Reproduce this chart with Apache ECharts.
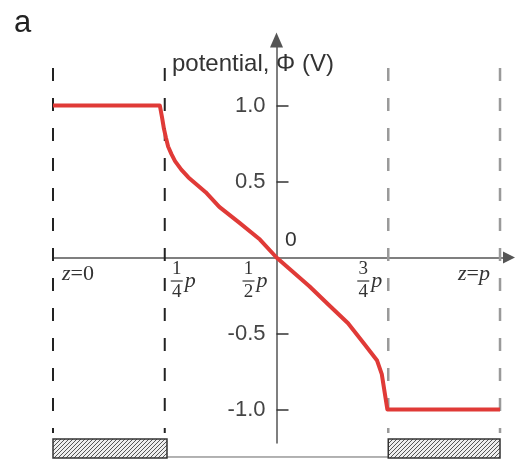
<!DOCTYPE html>
<html><head><meta charset="utf-8">
<script src="https://cdn.jsdelivr.net/npm/echarts@6/dist/echarts.min.js"></script>
<style>html,body{margin:0;padding:0;background:#fff}#c{width:515px;height:460px}</style>
</head><body><div id="c"></div>
<script>
// ---- data (z as fraction of period p, potential in V) ----
const zPos = [0, 0.239, 0.244, 0.248, 0.2525, 0.2575, 0.265, 0.273, 0.287, 0.303, 0.3415, 0.372, 0.418, 0.463, 0.5, 0.530, 0.5735, 0.6165, 0.66, 0.696, 0.725, 0.7355, 0.748, 1.0];
const phi  = [1.0, 1.0, 0.92, 0.85, 0.79, 0.73, 0.68, 0.634, 0.578, 0.527, 0.43, 0.333, 0.226, 0.118, 0.0, -0.078, -0.189, -0.311, -0.433, -0.567, -0.678, -0.767, -1.0, -1.0];
const yTickValues = [-1, -0.5, 0.5, 1];
const xTickZ = [0, 0.25, 0.5, 0.75, 1];
const xTickLabels = ['z=0', '1/4', '1/2', '3/4', 'z=p'];
const dashBlackZ = [0, 0.25];
const dashGrayZ = [0.75, 1];
const dashTop = 1.247, dashBottom = -1.155;
const boxStartZ = [0, 0.75];
const boxEndZ = [0.255, 1.0];
const boxTop = -1.194, boxBottom = -1.319;
const baseLineY = -1.3125;
const originLabel = '0';
const yName = 'potential, \u03A6 (V)';
const panelLabel = 'a';

const SANS = 'Liberation Sans, Arial, sans-serif';
const SERIF = 'Liberation Serif, Times New Roman, serif';

// hatch pattern
const hc = document.createElement('canvas');
hc.width = 4; hc.height = 4;
const hx = hc.getContext('2d');
hx.fillStyle = '#eeeeee'; hx.fillRect(0, 0, 4, 4);
hx.strokeStyle = '#555'; hx.lineWidth = 1;
hx.beginPath();
hx.moveTo(0, 4); hx.lineTo(4, 0);
hx.moveTo(-1, 1); hx.lineTo(1, -1);
hx.moveTo(3, 5); hx.lineTo(5, 3);
hx.stroke();
const hatch = { image: hc, repeat: 'repeat' };

const shift = z => z - 0.5;

const GRID_LEFT = 53, GRID_RIGHT = 6, W = 515;
const X_MIN = -0.5, X_MAX = 0.5201;
const yAxisOffset = -((0 - X_MIN) / (X_MAX - X_MIN)) * (W - GRID_LEFT - GRID_RIGHT);

const dashSeries = [];
dashBlackZ.forEach(z => dashSeries.push({
  type: 'line', data: [[shift(z), dashTop], [shift(z), dashBottom]], showSymbol: false, silent: true, clip: false,
  lineStyle: { color: '#222', width: 2, type: [13, 17] }, z: 2
}));
dashGrayZ.forEach(z => dashSeries.push({
  type: 'line', data: [[shift(z), dashTop], [shift(z), dashBottom]], showSymbol: false, silent: true, clip: false,
  lineStyle: { color: '#9a9a9a', width: 2.5, type: [13, 17] }, z: 2
}));

const chart = echarts.init(document.getElementById('c'), null, { renderer: 'canvas' });
chart.setOption({
  animation: false,
  backgroundColor: '#fff',
  grid: { left: GRID_LEFT, right: GRID_RIGHT, top: 40, bottom: 17, containLabel: false },
  graphic: [
    { type: 'text', left: 14, top: 8, style: { text: panelLabel, font: '31px ' + SANS, fill: '#222' } },
    { type: 'text', x: 172, y: 64.5, style: { text: yName, font: '24px ' + SANS, fill: '#333', verticalAlign: 'middle' }, z: 10 }
  ],
  xAxis: {
    type: 'value', min: X_MIN, max: X_MAX,
    axisLine: { onZero: true, symbol: ['none', 'triangle'], symbolSize: [12, 12], lineStyle: { color: '#555', width: 1.5 } },
    axisTick: { show: false }, axisLabel: { show: false }, splitLine: { show: false }
  },
  yAxis: {
    type: 'value', min: -1.2204, max: 1.431, offset: yAxisOffset,
    axisLine: { onZero: false, symbol: ['none', 'triangle'], symbolSize: [13, 15], lineStyle: { color: '#555', width: 1.5 } },
    axisTick: { show: true, inside: true, length: 12, customValues: yTickValues, lineStyle: { color: '#333', width: 1.5 } },
    axisLabel: { customValues: yTickValues, formatter: v => v.toFixed(1), fontSize: 22, color: '#444', fontFamily: SANS, margin: 11 },
    splitLine: { show: false }
  },
  series: [
    ...dashSeries,
    {
      type: 'line', data: [[shift(0), baseLineY], [shift(1), baseLineY]], showSymbol: false, silent: true, clip: false,
      lineStyle: { color: '#666', width: 1 }, z: 1
    },
    {
      type: 'custom', clip: false, silent: true, z: 3,
      data: boxStartZ.map((s, i) => [shift(s), shift(boxEndZ[i]), boxTop, boxBottom]),
      encode: { x: [0, 1], y: [2, 3] },
      renderItem: (params, api) => {
        const p0 = api.coord([api.value(0), api.value(2)]);
        const p1 = api.coord([api.value(1), api.value(3)]);
        return { type: 'rect', shape: { x: p0[0], y: p0[1], width: p1[0] - p0[0], height: p1[1] - p0[1] },
          style: { fill: hatch, stroke: '#333', lineWidth: 1.5 } };
      }
    },
    {
      type: 'line', data: zPos.map((z, i) => [shift(z), phi[i]]), showSymbol: false, clip: false,
      lineStyle: { color: '#e03a37', width: 4, join: 'round' }, z: 5
    },
    {
      type: 'custom', clip: false, silent: true, z: 6,
      data: xTickZ.map((z, i) => [shift(z), 0, i]),
      renderItem: (params, api) => {
        const i = api.value(2);
        const [px, py] = api.coord([api.value(0), 0]);
        const txt = xTickLabels[i];
        if (txt.indexOf('z=') === 0) {
          const left = i === 0;
          return { type: 'text', x: left ? px + 9 : px - 10, y: py + 17,
            style: { text: '{i|z}{r|=}' + (txt.slice(2) === 'p' ? '{i|p}' : '{r|' + txt.slice(2) + '}'),
              align: left ? 'left' : 'right', verticalAlign: 'middle',
              rich: { i: { font: 'italic 22px ' + SERIF, fill: '#333' },
                      r: { font: '22px ' + SERIF, fill: '#333' } } } };
        }
        const parts = txt.split('/');
        const cxOff = [0, 12, -28, -25, 0][i];
        const cx = px + cxOff;
        return { type: 'group', children: [
          { type: 'text', x: cx, y: py + 12, style: { text: parts[0], font: '19px ' + SERIF, fill: '#333', align: 'center', verticalAlign: 'middle' } },
          { type: 'line', shape: { x1: cx - 6, y1: py + 23.5, x2: cx + 6, y2: py + 23.5 }, style: { stroke: '#333', lineWidth: 1.2 } },
          { type: 'text', x: cx, y: py + 35, style: { text: parts[1], font: '19px ' + SERIF, fill: '#333', align: 'center', verticalAlign: 'middle' } },
          { type: 'text', x: cx + 8, y: py + 24, style: { text: 'p', font: 'italic 22px ' + SERIF, fill: '#333', align: 'left', verticalAlign: 'middle' } }
        ] };
      }
    },
    {
      type: 'custom', clip: false, silent: true, z: 6,
      data: [[0, 0]],
      renderItem: (params, api) => {
        const [px, py] = api.coord([0, 0]);
        return { type: 'text', x: px + 8.5, y: py - 17.5,
          style: { text: originLabel, font: '21px ' + SANS, fill: '#333', align: 'left', verticalAlign: 'middle' } };
      }
    }
  ]
});
</script></body></html>
